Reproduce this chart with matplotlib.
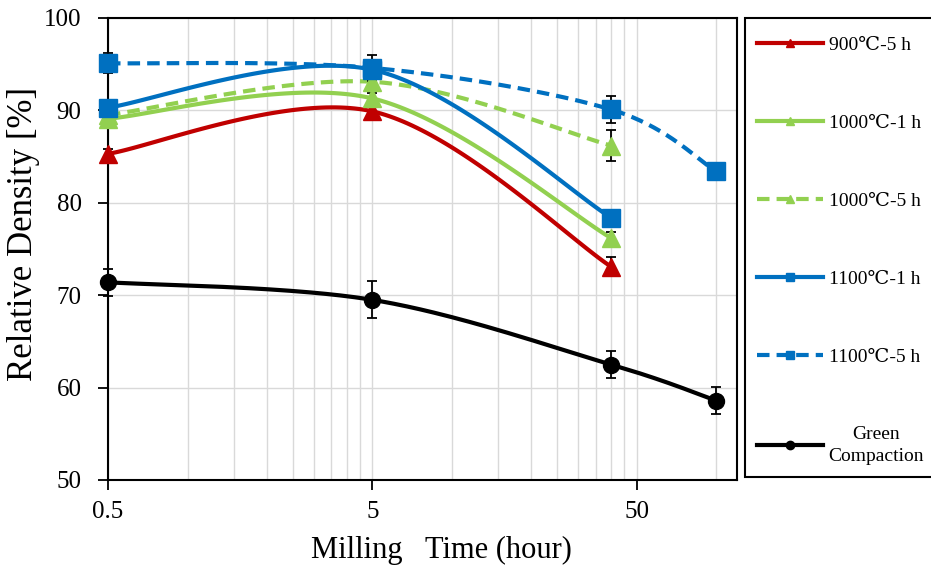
import numpy as np
import matplotlib
matplotlib.use("Agg")
import matplotlib.pyplot as plt
from matplotlib.lines import Line2D
from matplotlib.ticker import FixedLocator, NullFormatter, FixedFormatter

plt.rcParams['font.family'] = ['Liberation Serif', 'DejaVu Serif']

# Milling time (hours) and relative density (%) with error bars
time_short = [0.5, 5, 40]
time_long = [0.5, 5, 40, 100]

d900_5h = [85.3, 89.9, 73.1]
e900_5h = [0.5, 0.8, 1.0]

d1000_1h = [89.1, 91.3, 76.2]
e1000_1h = [0.5, 0.6, 0.6]

d1000_5h = [89.5, 93.1, 86.2]
e1000_5h = [0.5, 0.8, 1.7]

d1100_1h = [90.3, 94.4, 78.4]
e1100_1h = [0.8, 0.6, 0.6]

d1100_5h = [95.1, 94.6, 90.1, 83.4]
e1100_5h = [1.1, 1.4, 1.5, 0.6]

green = [71.4, 69.5, 62.5, 58.6]
e_green = [1.45, 2.0, 1.45, 1.45]

labels = ["900\u2103-5 h", "1000\u2103-1 h", "1000\u2103-5 h",
          "1100\u2103-1 h", "1100\u2103-5 h", "Green\nCompaction"]

RED = "#C00000"
LGREEN = "#92D050"
BLUE = "#0070C0"
BLACK = "#000000"


def smooth(xs, ys, n=60):
    """Cardinal (Catmull-Rom style) Bezier smoothing in log-x space."""
    u = np.log10(np.asarray(xs, float))
    v = np.asarray(ys, float)
    P = np.column_stack([u, v])
    m = len(P)
    out = []
    t = np.linspace(0, 1, n)[:, None]
    for i in range(m - 1):
        p0 = P[i - 1] if i > 0 else P[i]
        p1 = P[i]
        p2 = P[i + 1]
        p3 = P[i + 2] if i + 2 < m else P[i + 1]
        c1 = p1 + (p2 - p0) / 6.0
        c2 = p2 - (p3 - p1) / 6.0
        seg = ((1 - t) ** 3) * p1 + 3 * ((1 - t) ** 2) * t * c1 \
            + 3 * (1 - t) * t ** 2 * c2 + t ** 3 * p2
        out.append(seg if i == 0 else seg[1:])
    curve = np.vstack(out)
    return 10 ** curve[:, 0], curve[:, 1]


fig = plt.figure(figsize=(9.31, 5.73), dpi=100)
W, H = 931, 573
ax = fig.add_axes([108 / W, 1 - 480 / H, (737 - 108) / W, (480 - 18) / H])

series = [
    (time_short, d900_5h, e900_5h, RED, '-', '^', 13),
    (time_short, d1000_1h, e1000_1h, LGREEN, '-', '^', 13),
    (time_short, d1000_5h, e1000_5h, LGREEN, '--', '^', 13),
    (time_short, d1100_1h, e1100_1h, BLUE, '-', 's', 12.5),
    (time_long, d1100_5h, e1100_5h, BLUE, '--', 's', 12.5),
    (time_long, green, e_green, BLACK, '-', 'o', 11.5),
]

LW = 3.0
handles = []
for (xs, ys, es, col, ls, mk, ms), lab in zip(series, labels):
    sx, sy = smooth(xs, ys)
    dashes = (3.0, 1.7) if ls == '--' else None
    line_kw = dict(color=col, lw=LW, solid_capstyle='butt', zorder=3)
    if dashes:
        ax.plot(sx, sy, linestyle='--', dashes=dashes, **line_kw)
    else:
        ax.plot(sx, sy, linestyle='-', **line_kw)
    eb = ax.errorbar(xs, ys, yerr=es, fmt='none', ecolor='black',
                     elinewidth=1.3, capsize=3.8, capthick=1.3, zorder=4)
    for art in eb.lines[1] + eb.lines[2]:
        art.set_clip_on(False)
    ax.plot(xs, ys, linestyle='none', marker=mk, markersize=ms,
            color=col, markeredgecolor=col, zorder=5, clip_on=False)
    h, = ax.plot([], [], color=col, lw=LW, marker=mk, markersize=6,
                 linestyle='--' if dashes else '-',
                 **({'dashes': dashes} if dashes else {}))
    handles.append(h)

ax.set_xscale('log')
ax.set_xlim(0.5, 120)
ax.set_ylim(50, 100)

major_x = [0.5, 5, 50]
minor_x = [1, 1.5, 2, 2.5, 3, 3.5, 4, 4.5,
           10, 15, 20, 25, 30, 35, 40, 45, 100]
ax.xaxis.set_major_locator(FixedLocator(major_x))
ax.xaxis.set_major_formatter(FixedFormatter(["0.5", "5", "50"]))
ax.xaxis.set_minor_locator(FixedLocator(minor_x))
ax.xaxis.set_minor_formatter(NullFormatter())
ax.set_yticks([50, 60, 70, 80, 90, 100])

ax.grid(True, which='both', axis='x', color='#d9d9d9', lw=1.0, zorder=0)
ax.grid(True, which='major', axis='y', color='#d9d9d9', lw=1.0, zorder=0)
ax.set_axisbelow(True)

for s in ax.spines.values():
    s.set_linewidth(1.5)
    s.set_color('black')

ax.tick_params(axis='both', which='major', direction='out', length=7,
               width=1.3, labelsize=18, colors='black')
ax.tick_params(axis='y', pad=12)
ax.tick_params(axis='x', pad=8)
ax.tick_params(axis='x', which='minor', length=0)

ax.set_xlabel("Milling   Time (hour)", fontsize=22)
ax.xaxis.set_label_coords((441 - 108) / (737 - 108), -(536 - 480) / (480 - 18))
ax.set_ylabel("Relative Density [%]", fontsize=25)
ax.yaxis.set_label_coords(-(108 - 40) / (737 - 108), (480 - 234) / (480 - 18))

# Legend panel: open frame (top, left, bottom) running to the right edge
bx0, by0, by1 = 745 / W, 1 - 477 / H, 1 - 18 / H
fig.add_artist(Line2D([1.0, bx0, bx0, 1.0], [by1, by1, by0, by0],
                      transform=fig.transFigure, color='black', lw=1.5,
                      solid_joinstyle='miter', clip_on=False, zorder=1))
leg = fig.legend(handles, labels, loc='upper left',
                 bbox_to_anchor=(745 / W, 1 - 25 / H),
                 bbox_transform=fig.transFigure,
                 fontsize=14, frameon=False,
                 handlelength=3.4, handletextpad=0.3, labelspacing=3.1,
                 borderpad=0.6, borderaxespad=0.0)
leg.set_zorder(2)
for t in leg.get_texts():
    t.set_multialignment('center')
leg.get_texts()[-1].set_linespacing(1.35)

fig.savefig("out.png", dpi=100)
